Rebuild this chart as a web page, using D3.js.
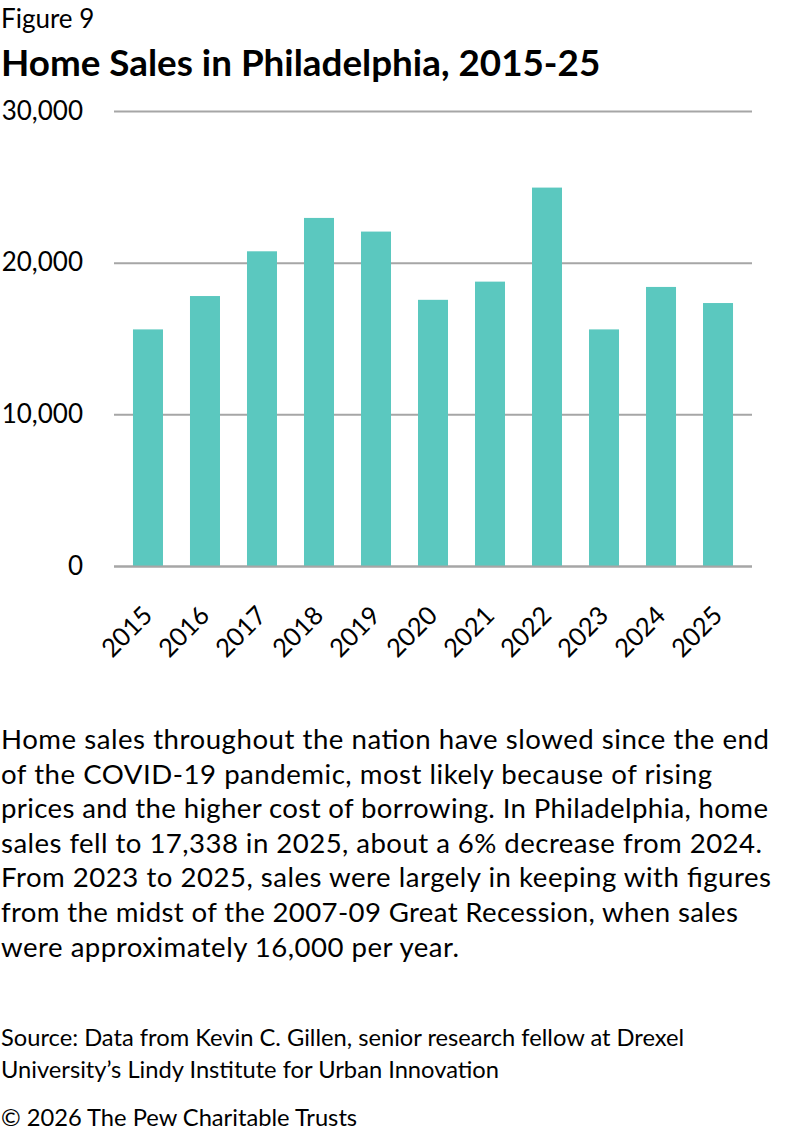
<!DOCTYPE html>
<html>
<head>
<meta charset="utf-8">
<script src="https://cdn.jsdelivr.net/npm/d3@7"></script>
<style>
  html, body { margin: 0; padding: 0; background: #fff; }
  svg { display: block; font-family: Lato, "Noto Sans", sans-serif; }
</style>
</head>
<body>
<svg id="chart" width="792" height="1134"></svg>
<script>
// ---- Data ----
const years = ["2015","2016","2017","2018","2019","2020","2021","2022","2023","2024","2025"];
const sales = [15600, 17800, 20750, 22950, 22050, 17550, 18750, 24950, 15600, 18400, 17338];
const yTicks = [0, 10000, 20000, 30000];

const figureLabel = "Figure 9";
const title = "Home Sales in Philadelphia, 2015-25";
const bodyLines = [
  "Home sales throughout the nation have slowed since the end",
  "of the COVID-19 pandemic, most likely because of rising",
  "prices and the higher cost of borrowing. In Philadelphia, home",
  "sales fell to 17,338 in 2025, about a 6% decrease from 2024.",
  "From 2023 to 2025, sales were largely in keeping with figures",
  "from the midst of the 2007-09 Great Recession, when sales",
  "were approximately 16,000 per year."
];
const sourceLines = [
  "Source: Data from Kevin C. Gillen, senior research fellow at Drexel",
  "University\u2019s Lindy Institute for Urban Innovation"
];
const copyright = "\u00A9 2026 The Pew Charitable Trusts";

// ---- Layout ----
const svg = d3.select("#chart");
const plot = { left: 114, right: 752, top: 111, bottom: 566 };
const barColor = "#5bc8bf";
const gridColor = "#a6a6a6";
const bodyWidths = [768, 711, 767, 761, 770, 737, 458];

svg.append("text").attr("x", 1).attr("y", 28)
  .attr("font-size", 26).attr("fill", "#000").text(figureLabel);
svg.append("text").attr("x", 1).attr("y", 76)
  .attr("font-size", 36.8).attr("font-weight", 700).attr("fill", "#000").text(title);

const x = d3.scaleBand().domain(years).range([plot.left, plot.right])
  .paddingInner(0.4737).paddingOuter(0.333);
const y = d3.scaleLinear().domain([0, 30000]).range([plot.bottom, plot.top]);

// gridlines + y labels
const yAxis = d3.axisLeft(y).tickValues(yTicks).tickFormat(d3.format(","))
  .tickSize(-(plot.right - plot.left)).tickPadding(31);
const gy = svg.append("g").attr("transform", `translate(${plot.left},0)`).call(yAxis);
gy.select(".domain").remove();
gy.selectAll(".tick line").attr("stroke", gridColor).attr("stroke-width", 2);
gy.selectAll(".tick text").attr("font-size", 26).attr("fill", "#000")
  .attr("font-family", "Lato, 'Noto Sans', sans-serif");

// bars
svg.append("g").selectAll("rect").data(years).join("rect")
  .attr("x", d => x(d))
  .attr("width", x.bandwidth())
  .attr("y", (d, i) => y(sales[i]))
  .attr("height", (d, i) => y(0) - y(sales[i]))
  .attr("fill", barColor);

// baseline on top
svg.append("line").attr("x1", plot.left).attr("x2", plot.right)
  .attr("y1", y(0) + 0.5).attr("y2", y(0) + 0.5)
  .attr("stroke", gridColor).attr("stroke-width", 2);

// x labels
svg.append("g").selectAll("text").data(years).join("text")
  .attr("transform", d => `translate(${x(d) + x.bandwidth() / 2 + 6},617) rotate(-45)`)
  .attr("text-anchor", "end")
  .attr("font-size", 25.5).attr("fill", "#000")
  .text(d => d);

// body text
svg.append("g").selectAll("text").data(bodyLines).join("text")
  .attr("x", 1).attr("y", (d, i) => 749 + i * 34.6)
  .attr("font-size", 27.6).attr("fill", "#000")
  .attr("textLength", (d, i) => bodyWidths[i])
  .attr("lengthAdjust", "spacing")
  .text(d => d);

// source
svg.append("g").selectAll("text").data(sourceLines).join("text")
  .attr("x", 1).attr("y", (d, i) => 1046 + i * 32)
  .attr("font-size", 23.7).attr("fill", "#000")
  .text(d => d);
svg.append("text").attr("x", 1).attr("y", 1126)
  .attr("font-size", 23.7).attr("fill", "#000").text(copyright);
</script>
</body>
</html>
